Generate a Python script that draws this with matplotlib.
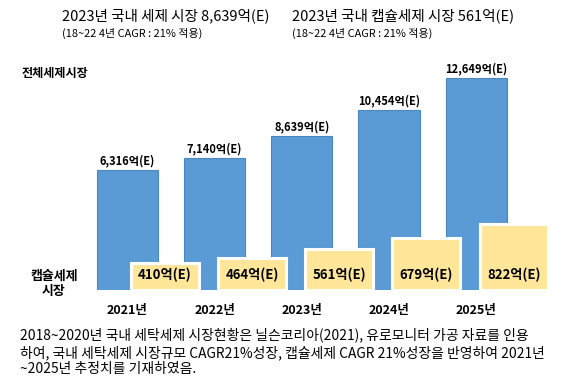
import matplotlib
matplotlib.use('Agg')
import matplotlib.pyplot as plt
import numpy as np

plt.rcParams['font.family'] = ['Noto Sans CJK KR', 'DejaVu Sans']

# data
years = ['2021년', '2022년', '2023년', '2024년', '2025년']
total_market = [6316, 7140, 8639, 10454, 12649]      # 전체세제시장 (억)
capsule_market = [410, 464, 561, 679, 822]           # 캡슐세제시장 (억)
total_labels = [f'{v:,}억(E)' for v in total_market]
capsule_labels = [f'{v}억(E)' for v in capsule_market]

header_left = '2023년 국내 세제 시장 8,639억(E)'
header_right = '2023년 국내 캡슐세제 시장 561억(E)'
header_sub = '(18~22 4년 CAGR : 21% 적용)'
note = ('2018~2020년 국내 세탁세제 시장현황은 닐슨코리아(2021), 유로모니터 가공 자료를 인용\n'
        '하여, 국내 세탁세제 시장규모 CAGR21%성장, 캡슐세제 CAGR 21%성장을 반영하여 2021년\n'
        '~2025년 추정치를 기재하였음.')

BLUE = '#5B9BD5'
YELLOW = '#FFE699'

W, H = 580, 385
fig = plt.figure(figsize=(W / 100, H / 100), dpi=100)
fig.patch.set_facecolor('white')

ax = fig.add_axes([49 / W, 95 / H, 510 / W, 230 / H])
x = np.arange(len(years))

# 전체 시장 막대 (axis baseline below zero, as in the original drawing)
base = -1940
ax.bar(x, [v - base for v in total_market], bottom=base, width=0.70,
       color=BLUE, edgecolor='#4A86BF', linewidth=0.8, zorder=2)
ax.set_ylim(base, base + 230 / 0.01453)
ax.set_xlim(-0.9, 4.95)
for xi, v, lab in zip(x, total_market, total_labels):
    ax.annotate(lab, (xi, v), xytext=(0, 2), textcoords='offset points',
                ha='center', va='bottom', fontsize=8, fontweight='bold')

ax.set_xticks(x)
ax.set_xticklabels(years, fontsize=9, fontweight='bold')
ax.tick_params(axis='x', length=0, pad=10)
ax.set_yticks([])
for s in ax.spines.values():
    s.set_visible(False)

# 캡슐 시장 박스
base2 = 125
ax2 = ax.twinx()
ax2.bar(x + 0.43, [v - base2 for v in capsule_market], bottom=base2, width=0.78,
        color=YELLOW, edgecolor='white', linewidth=2.2, zorder=3)
ax2.set_ylim(base2, base2 + 230 / 0.0947)
for xi, lab in zip(x, capsule_labels):
    ax2.text(xi + 0.43, base2 + 155, lab, ha='center', va='center',
             fontsize=9.5, fontweight='bold', zorder=4)
ax2.set_yticks([])
for s in ax2.spines.values():
    s.set_visible(False)

# 텍스트
fig.text(62 / W, 1 - 16 / H, header_left, fontsize=10.5, va='center')
fig.text(292 / W, 1 - 16 / H, header_right, fontsize=10.5, va='center')
fig.text(62 / W, 1 - 33 / H, header_sub, fontsize=7.9, va='center')
fig.text(292 / W, 1 - 33 / H, header_sub, fontsize=7.9, va='center')
fig.text(22 / W, 1 - 73 / H, '전체세제시장', fontsize=8.7, fontweight='bold', va='center')
fig.text(54 / W, 1 - 283 / H, '캡슐세제\n시장', fontsize=9.3, fontweight='bold',
         ha='center', va='center', multialignment='center', linespacing=1.1)
fig.text(20 / W, 1 - 352 / H, note, fontsize=9.95, va='center', linespacing=1.22)

fig.savefig('out.png', dpi=100)
